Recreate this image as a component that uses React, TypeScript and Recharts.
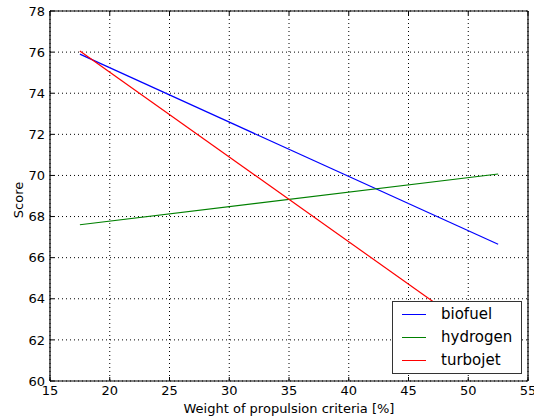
import React from 'react';
import { LineChart, Line, XAxis, YAxis, CartesianGrid } from 'recharts';

const weights = [17.5, 52.5];
const biofuel = [75.9, 66.65];
const hydrogen = [67.6, 70.07];
const turbojet = [76.05, 61.62];
const xTicks = [15, 20, 25, 30, 35, 40, 45, 50, 55];
const yTicks = [60, 62, 64, 66, 68, 70, 72, 74, 76, 78];

const seriesInfo = [
  { key: 'biofuel', color: '#0000ff' },
  { key: 'hydrogen', color: '#008000' },
  { key: 'turbojet', color: '#ff0000' },
];

const data = weights.map((w, i) => ({
  w,
  biofuel: biofuel[i],
  hydrogen: hydrogen[i],
  turbojet: turbojet[i],
}));

const FONT = 'DejaVu Sans, sans-serif';

const LegendBox = () => (
  <div
    style={{
      position: 'absolute',
      left: 392,
      top: 301,
      width: 130,
      height: 73,
      border: '1.5px solid #333',
      background: '#fff',
      boxSizing: 'border-box',
      fontFamily: FONT,
      fontSize: 15,
      color: '#000',
    }}
  >
    {seriesInfo.map((s, i) => (
      <div
        key={s.key}
        style={{ position: 'absolute', left: 0, top: 2 + i * 23, height: 22, width: '100%' }}
      >
        <div
          style={{
            position: 'absolute',
            left: 9,
            top: 10,
            width: 24,
            height: 1.2,
            background: s.color,
          }}
        />
        <div style={{ position: 'absolute', left: 48, top: 1, lineHeight: '18px' }}>{s.key}</div>
      </div>
    ))}
  </div>
);

const YLabel = () => {
  const cx = 23;
  const cy = 200;
  return (
    <text
      x={cx}
      y={cy}
      transform={`rotate(-90, ${cx}, ${cy})`}
      textAnchor="middle"
      fontFamily={FONT}
      fontSize={13}
      fill="#000"
    >
      Score
    </text>
  );
};

export default function App() {
  return (
    <div style={{ position: 'absolute', left: 0, top: 0, width: 534, height: 420, background: '#fff' }}>
      <LineChart
        width={534}
        height={420}
        data={data}
        margin={{ top: 10, right: 5, left: 0, bottom: 0 }}
      >
        <CartesianGrid
          xAxisId="b"
          yAxisId="l"
          stroke="#000"
          strokeDasharray="1 3"
          strokeWidth={1}
        />
        <XAxis
          xAxisId="b"
          dataKey="w"
          type="number"
          domain={[15, 55]}
          ticks={xTicks}
          height={39}
          tickSize={-4}
          tickMargin={9}
          stroke="#000"
          tick={{ fill: '#000', fontFamily: FONT, fontSize: 13 }}
          axisLine={{ stroke: '#000', strokeWidth: 1.2 }}
          tickLine={{ stroke: '#000' }}
          interval={0}
          label={{
            value: 'Weight of propulsion criteria [%]',
            position: 'insideBottom',
            offset: 7,
            fill: '#000',
            fontFamily: FONT,
            fontSize: 13,
          }}
        />
        <XAxis
          xAxisId="t"
          dataKey="w"
          type="number"
          orientation="top"
          domain={[15, 55]}
          ticks={xTicks}
          height={1}
          tickSize={-4}
          tickMargin={0}
          tick={{ fontSize: 0 }}
          tickFormatter={() => ''}
          axisLine={{ stroke: '#000', strokeWidth: 1.2 }}
          tickLine={{ stroke: '#000' }}
          interval={0}
        />
        <YAxis
          yAxisId="l"
          type="number"
          domain={[60, 78]}
          ticks={yTicks}
          width={50}
          tickSize={-4}
          tickMargin={9}
          tick={{ fill: '#000', fontFamily: FONT, fontSize: 13 }}
          axisLine={{ stroke: '#000', strokeWidth: 1.2 }}
          tickLine={{ stroke: '#000' }}
          interval={0}
          label={<YLabel />}
        />
        <YAxis
          yAxisId="r"
          orientation="right"
          type="number"
          domain={[60, 78]}
          ticks={yTicks}
          width={1}
          tickSize={-4}
          tickMargin={0}
          tick={{ fontSize: 0 }}
          tickFormatter={() => ''}
          axisLine={{ stroke: '#000', strokeWidth: 1.2 }}
          tickLine={{ stroke: '#000' }}
          interval={0}
        />
        {seriesInfo.map((s) => (
          <Line
            key={s.key}
            xAxisId="b"
            yAxisId="l"
            dataKey={s.key}
            stroke={s.color}
            strokeWidth={1.2}
            dot={false}
            isAnimationActive={false}
            type="linear"
          />
        ))}
      </LineChart>
      <LegendBox />
    </div>
  );
}
